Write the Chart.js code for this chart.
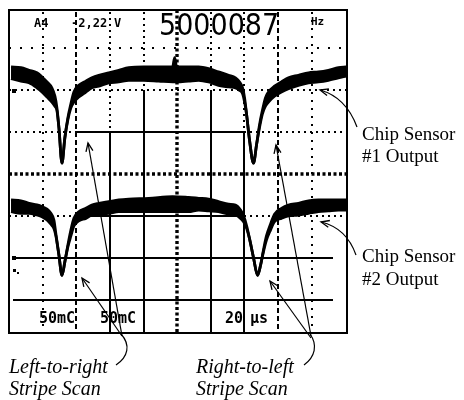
<!DOCTYPE html>
<html><head><meta charset="utf-8">
<script src="https://cdn.jsdelivr.net/npm/chart.js@4.4.1/dist/chart.umd.min.js"></script>
<style>html,body{margin:0;padding:0;background:#fff}#wrap{width:464px;height:400px;position:relative}</style>
</head><body><div id="wrap"><canvas id="c"></canvas></div>
<script>
// Time axis in microseconds (200 µs/div), voltage in mV (50 mV/div)
const t1Time  = [12,71,119,166,196,226,255,273,285,297,315,332,350,368,386,415,457,493,534,593,653,712,801,890,973,985,997,1068,1128,1187,1246,1306,1347,1371,1389,1401,1413,1430,1454,1472,1490,1507,1525,1543,1579,1620,1662,1721,1781,1840,1899,1959,2005];
const t1Upper = [128,127,124,121,116,110,103,93,79,55,13,43,67,84,98,106,111,115,118,121,124,127,128,128,128,139,128,128,128,126,122,118,115,110,103,91,71,41,13,35,59,76,91,98,105,110,115,118,121,122,124,127,128];
const t1Lower = [114,111,109,103,98,92,86,81,76,55,13,43,65,79,86,92,98,103,105,109,110,112,112,111,110,110,110,111,112,110,106,104,103,100,96,86,71,41,13,35,56,72,81,86,93,98,102,106,109,110,112,115,117];
const t2Time  = [12,71,119,166,196,226,249,267,279,297,315,332,350,368,386,415,457,493,534,593,653,712,831,973,1068,1128,1187,1246,1306,1347,1377,1395,1413,1430,1454,1478,1496,1513,1531,1555,1579,1620,1662,1721,1781,1840,1899,1959,2005];
const t2Upper = [-31,-32,-35,-37,-39,-42,-47,-55,-72,-97,-121,-105,-85,-67,-53,-45,-41,-37,-35,-33,-31,-30,-29,-27,-28,-29,-30,-33,-36,-37,-43,-50,-62,-77,-100,-121,-109,-91,-74,-60,-48,-41,-37,-35,-32,-31,-31,-31,-31];
const t2Lower = [-45,-47,-47,-49,-51,-55,-60,-65,-74,-97,-121,-105,-87,-74,-62,-56,-53,-49,-48,-47,-45,-45,-45,-45,-45,-43,-44,-45,-48,-49,-53,-57,-65,-77,-100,-121,-109,-93,-79,-67,-57,-53,-50,-49,-47,-45,-44,-43,-43];
const timeTicks = [200,400,600,800,1000,1200,1400,1600,1800];
const voltTicks = [150,100,50,0,-50,-100,-150];
const channelText = 'A4';
const levelText = '-2,22';
const levelUnit = 'V';
const freqText = '5000087';
const freqUnit = 'Hz';
const ch1Scale = '50mC';
const ch2Scale = '50mC';
const timeScaleA = '20';
const timeScaleB = 'µs';
const sensor1 = ['Chip Sensor', '#1 Output'];
const sensor2 = ['Chip Sensor', '#2 Output'];
const scanLR = ['Left-to-right', 'Stripe Scan'];
const scanRL = ['Right-to-left', 'Stripe Scan'];

const pts = (xs, ys) => xs.map((x, i) => ({x, y: ys[i]}));

function seg(ctx, x1, y1, x2, y2, w, dash) {
  ctx.save(); ctx.strokeStyle = '#000'; ctx.lineWidth = w; ctx.setLineDash(dash || []);
  ctx.beginPath(); ctx.moveTo(x1, y1); ctx.lineTo(x2, y2); ctx.stroke(); ctx.restore();
}
function head(ctx, x, y, ang) {
  ctx.save(); ctx.strokeStyle = '#000'; ctx.lineWidth = 1.3;
  ctx.beginPath();
  ctx.moveTo(x + 9 * Math.cos(ang - 0.4), y + 9 * Math.sin(ang - 0.4));
  ctx.lineTo(x, y);
  ctx.lineTo(x + 9 * Math.cos(ang + 0.4), y + 9 * Math.sin(ang + 0.4));
  ctx.stroke(); ctx.restore();
}

const scope = {
  id: 'scope',
  beforeDatasetsDraw(chart) {
    const {ctx, scales: {x, y}} = chart;
    const top = 10, bot = 333, left = 9, right = 347;
    const X = v => Math.round(x.getPixelForValue(v));
    const Y = v => Math.round(y.getPixelForValue(v));
    timeTicks.forEach(t => {
      const px = X(t);
      if (t === 1000) { seg(ctx, px, top, px, bot, 3.4, [3, 2.5]); return; }
      if (t === 800 || t === 1200) {
        const yb = Y(100);
        seg(ctx, px, top + 2, px, yb, 2, [2, 4]); seg(ctx, px, yb, px, bot, 2); return;
      }
      if (t === 600 || t === 1400) {
        const yb = Y(50);
        seg(ctx, px, top + 2, px, yb, 2, [2, 4]); seg(ctx, px, yb, px, bot, 2); return;
      }
      if (t === 400 || t === 1600) { seg(ctx, px, top + 2, px, bot, 2, [5, 3]); return; }
      seg(ctx, px, top + 2, px, bot, 2, [2, 6]);
    });
    const xa = X(400), xb = X(1400);
    voltTicks.forEach(v => {
      const py = Y(v);
      if (v === 0) { seg(ctx, left, py, right, py, 3.4, [3, 2.5]); return; }
      if (v === 50 || v === -50) {
        seg(ctx, left, py, xa, py, 2, [2, 4]); seg(ctx, xa, py, xb, py, 2);
        seg(ctx, xb, py, right, py, 2, [2, 4]); return;
      }
      if (v === -100 || v === -150) { seg(ctx, left + 4, py, right - 14, py, 2); return; }
      if (v === 100) { seg(ctx, left, py, right, py, 2, [2, 4]); return; }
      seg(ctx, left, py, right, py, 2, [2, 9]);
    });
  },
  afterDraw(chart) {
    const {ctx} = chart;
    // frame
    ctx.save(); ctx.strokeStyle = '#000'; ctx.lineWidth = 2;
    ctx.strokeRect(9, 10, 338, 323); ctx.restore();
    // readouts
    ctx.save(); ctx.fillStyle = '#000';
    ctx.font = 'bold 12px "DejaVu Sans Mono"'; ctx.textBaseline = 'alphabetic';
    ctx.fillText(channelText, 34, 27);
    ctx.fillText(levelText, 71, 27);
    ctx.fillText(levelUnit, 114, 27);
    ctx.font = 'bold 11px "DejaVu Sans Mono"';
    ctx.fillText(freqUnit, 311, 25);
    ctx.save(); ctx.translate(159, 35); ctx.scale(0.87, 1);
    ctx.font = '31px "DejaVu Sans"'; ctx.fillText(freqText, 0, 0); ctx.restore();
    ctx.font = 'bold 15px "DejaVu Sans Mono"';
    ctx.fillText(ch1Scale, 39, 323);
    ctx.fillText(ch2Scale, 100, 323);
    ctx.fillText(timeScaleA, 225, 323);
    ctx.fillText(timeScaleB, 250, 323);
    // side labels
    ctx.font = '19px "Liberation Serif"';
    ctx.fillText(sensor1[0], 362, 140); ctx.fillText(sensor1[1], 362, 162);
    ctx.fillText(sensor2[0], 362, 262); ctx.fillText(sensor2[1], 362, 285);
    ctx.font = 'italic 20px "Liberation Serif"';
    ctx.fillText(scanLR[0], 9, 373); ctx.fillText(scanLR[1], 9, 395);
    ctx.fillText(scanRL[0], 196, 373); ctx.fillText(scanRL[1], 196, 395);
    // ground markers
    ctx.fillRect(12, 89, 4, 4); ctx.fillRect(12, 256, 4, 4);
    ctx.fillRect(13, 269, 3, 3); ctx.fillRect(17, 272, 2, 2);
    ctx.restore();
    // arrows: scan groups
    ctx.save(); ctx.strokeStyle = '#000'; ctx.lineWidth = 1.2;
    ctx.beginPath(); ctx.moveTo(88, 143); ctx.lineTo(122, 336); ctx.stroke();
    ctx.beginPath(); ctx.moveTo(82, 278); ctx.lineTo(122, 336); ctx.stroke();
    ctx.beginPath(); ctx.moveTo(121, 334); ctx.bezierCurveTo(131, 345, 128, 357, 116, 365); ctx.stroke();
    ctx.beginPath(); ctx.moveTo(276, 145); ctx.lineTo(311, 336); ctx.stroke();
    ctx.beginPath(); ctx.moveTo(270, 281); ctx.lineTo(311, 338); ctx.stroke();
    ctx.beginPath(); ctx.moveTo(310, 334); ctx.bezierCurveTo(318, 345, 315, 357, 304, 365); ctx.stroke();
    // sensor arrows
    ctx.beginPath(); ctx.moveTo(357, 127); ctx.bezierCurveTo(350, 108, 338, 95, 320, 90); ctx.stroke();
    ctx.beginPath(); ctx.moveTo(356, 255); ctx.bezierCurveTo(350, 238, 338, 226, 321, 222); ctx.stroke();
    ctx.restore();
    head(ctx, 88, 143, Math.atan2(193, 34));
    head(ctx, 82, 278, Math.atan2(58, 40));
    head(ctx, 276, 145, Math.atan2(191, 35));
    head(ctx, 270, 281, Math.atan2(57, 41));
    head(ctx, 320, 90, Math.atan2(5, 18));
    head(ctx, 321, 222, Math.atan2(4, 17));
  }
};

const band = (data, fill) => ({data, borderColor: '#000', backgroundColor: '#000', borderWidth: 2.8,
  pointRadius: 0, fill, cubicInterpolationMode: 'monotone'});

new Chart(document.getElementById('c'), {
  type: 'line',
  data: {datasets: [
    band(pts(t1Time, t1Upper), false),
    band(pts(t1Time, t1Lower), '-1'),
    band(pts(t2Time, t2Upper), false),
    band(pts(t2Time, t2Lower), '-1')
  ]},
  options: {
    responsive: true, maintainAspectRatio: false, animation: false,
    layout: {padding: {left: 9, right: 117, top: 10, bottom: 67}},
    plugins: {legend: {display: false}, tooltip: {enabled: false}},
    scales: {
      x: {type: 'linear', min: 0, max: 2010, display: false},
      y: {type: 'linear', min: -190, max: 196, display: false}
    }
  },
  plugins: [scope]
});
</script></body></html>
